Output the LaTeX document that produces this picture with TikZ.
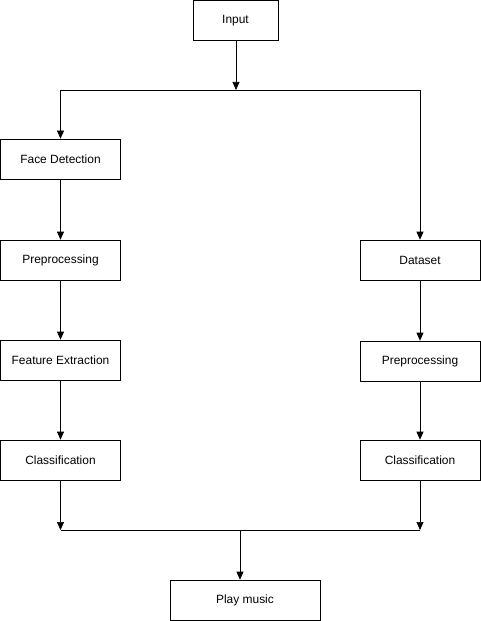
\documentclass[tikz,border=0pt]{standalone}
\usepackage{fontspec}
\setmainfont{Liberation Sans}
\usetikzlibrary{arrows.meta}

\begin{document}
\begin{tikzpicture}[x=0.03cm, y=-0.03cm, >={Triangle[length=2.4mm,width=2.1mm]},
    box/.style={draw, semithick, fill=white, minimum width=3.6cm, minimum height=1.2cm, inner sep=0pt, font=\fontsize{10.2}{12}\selectfont}]

    \useasboundingbox (0,0) rectangle (481,621);

    \node[box, minimum width=2.55cm] (input) at (235.5,20.5) {Input};

    \node[box] (face) at (60.5,159) {Face Detection};
    \node[box] (prepl) at (60.5,260) {Preprocessing};
    \node[box] (feat) at (60.5,360) {Feature Extraction};
    \node[box] (classl) at (60.5,460) {Classification};

    \node[box] (data) at (420,260) {Dataset};
    \node[box] (prepr) at (420,361) {Preprocessing};
    \node[box] (classr) at (420,460) {Classification};

    \node[box, minimum width=4.5cm] (play) at (245,600) {Play music};

    \coordinate (split) at (236,90);
    \coordinate (splitl) at (60.5,90);
    \coordinate (splitr) at (420,90);
    \coordinate (joinl) at (60.5,530);
    \coordinate (joinr) at (420,530);
    \coordinate (join) at (240,530);

    \draw[semithick, ->] (input.south -| split) -- (split);
    \draw[semithick] (splitl) -- (splitr);
    \draw[semithick, ->] (splitl) -- (face);
    \draw[semithick, ->] (splitr) -- (data);

    \draw[semithick, ->] (face) -- (prepl);
    \draw[semithick, ->] (prepl) -- (feat);
    \draw[semithick, ->] (feat) -- (classl);

    \draw[semithick, ->] (data) -- (prepr);
    \draw[semithick, ->] (prepr) -- (classr);

    \draw[semithick, ->] (classl) -- (joinl);
    \draw[semithick, ->] (classr) -- (joinr);
    \draw[semithick] (joinl) -- (joinr);
    \draw[semithick, ->] (join) -- (join |- play.north);

\end{tikzpicture}
\end{document}
